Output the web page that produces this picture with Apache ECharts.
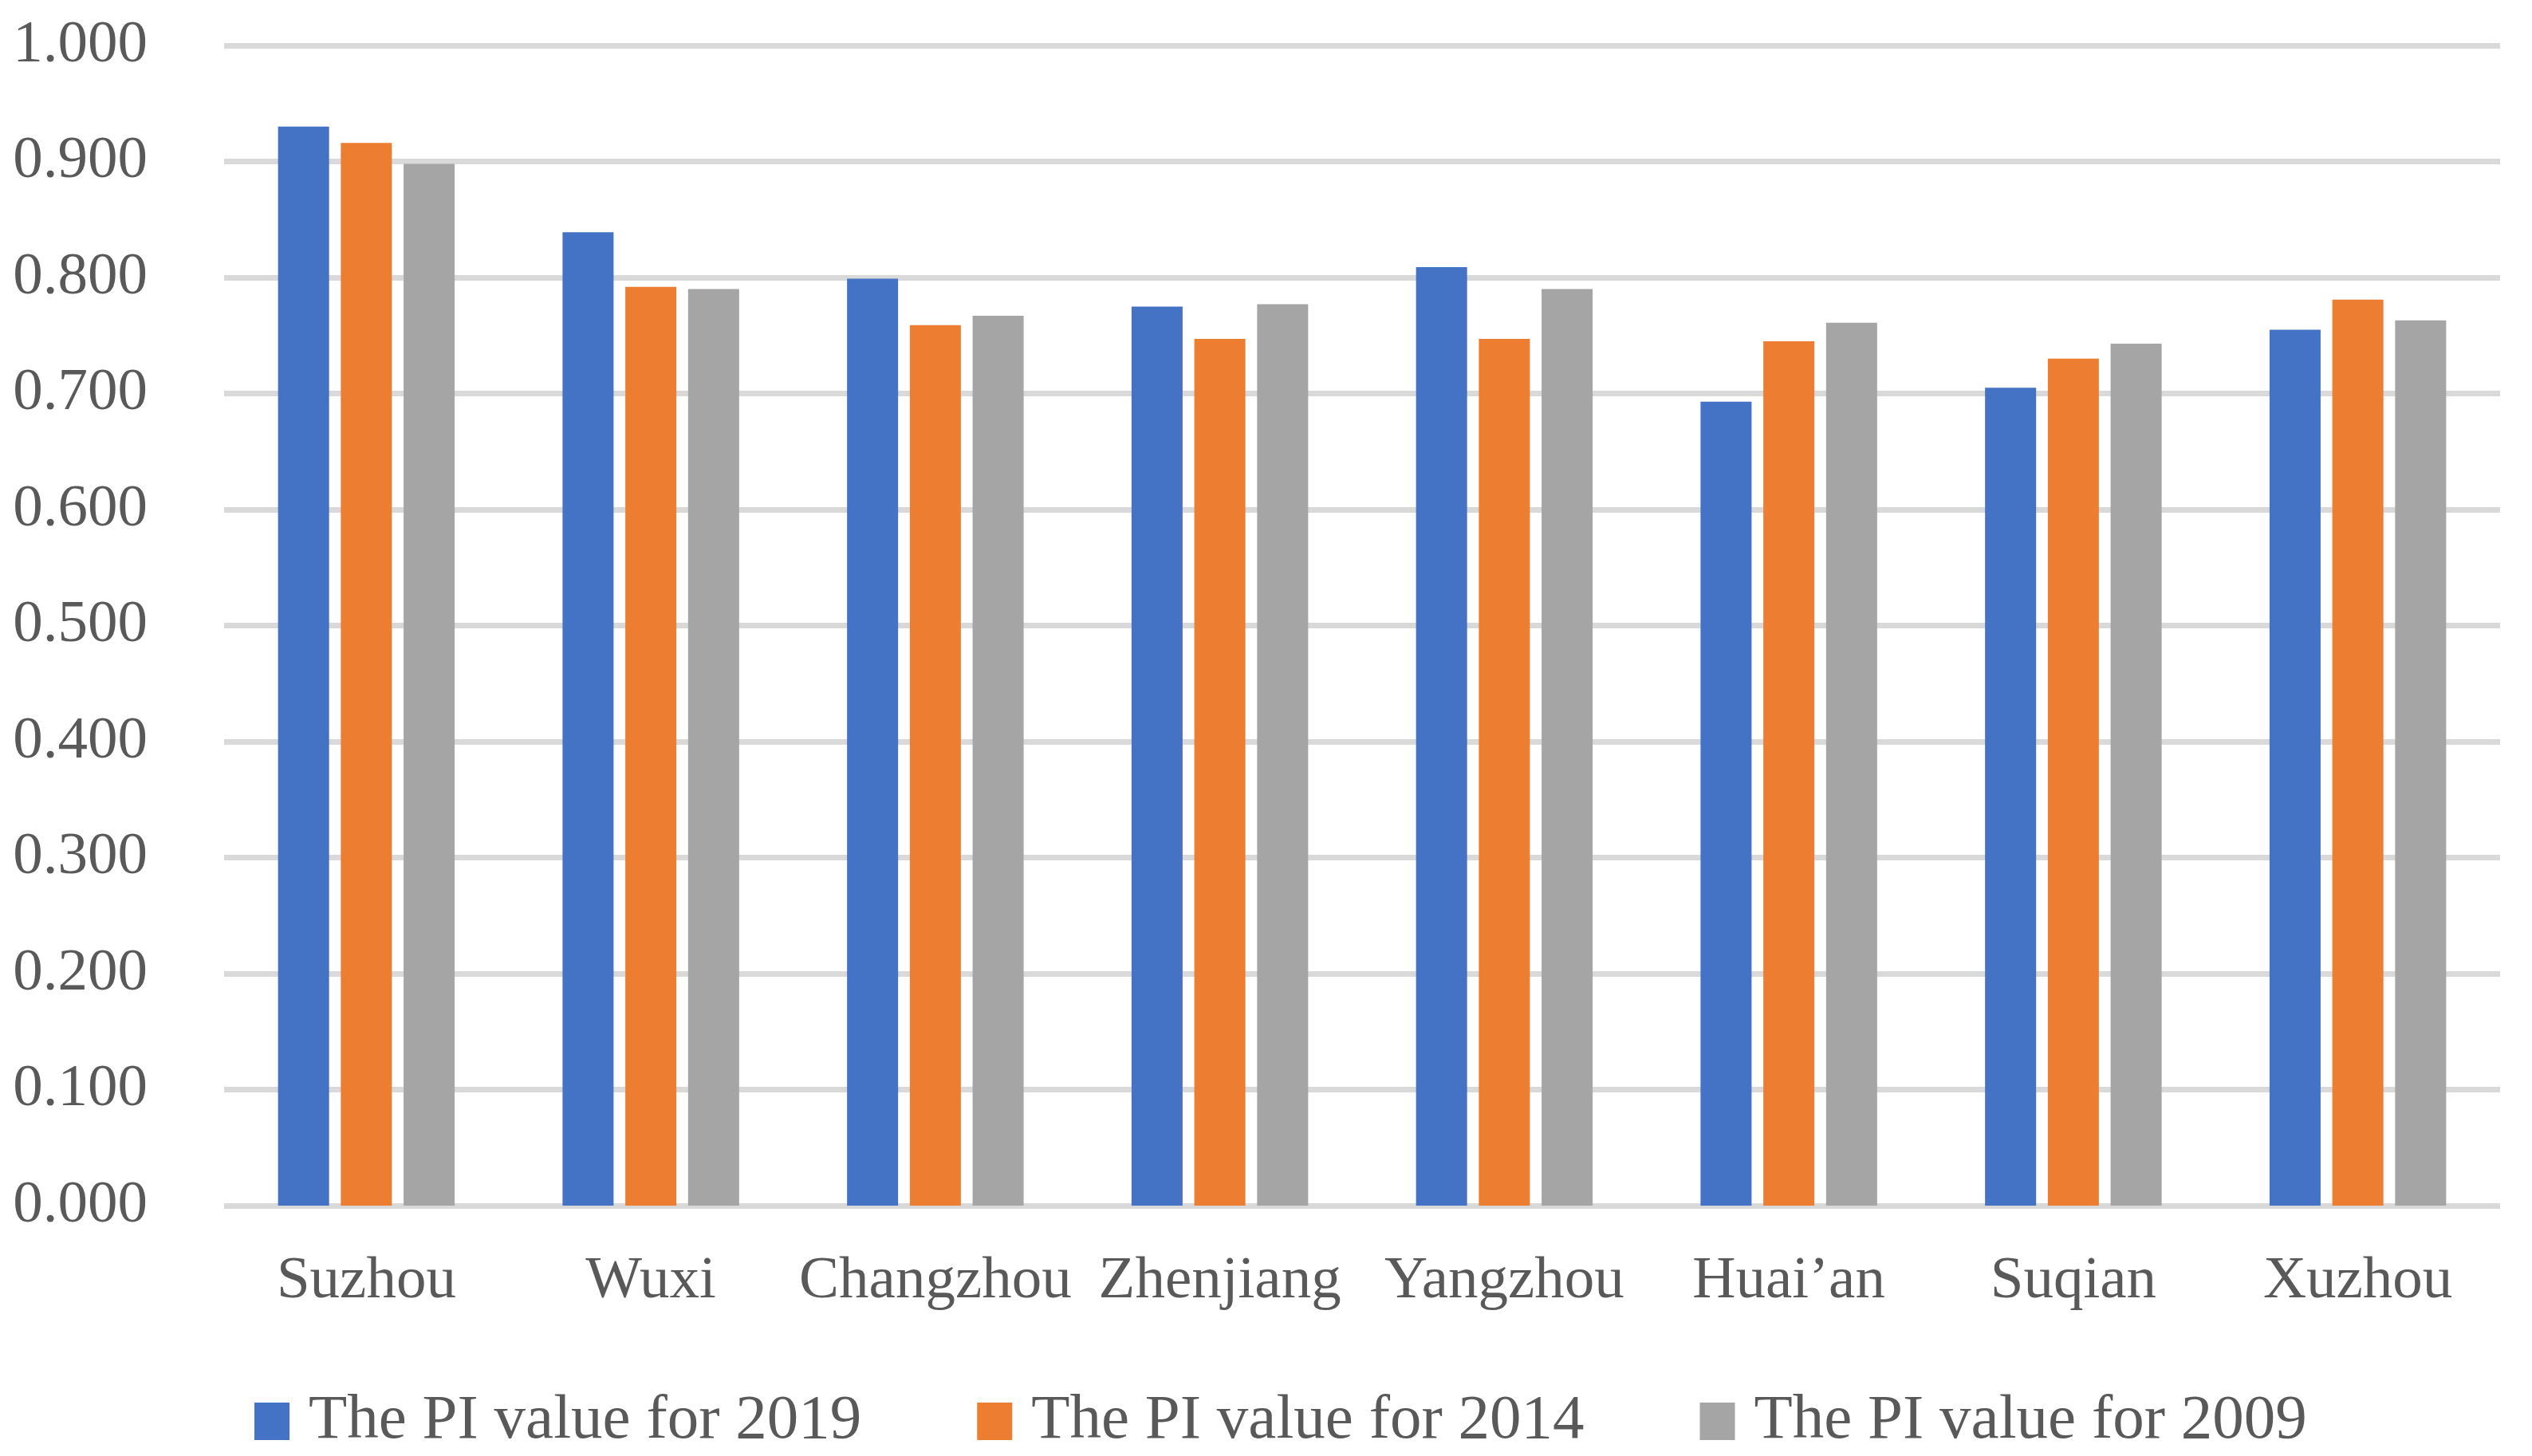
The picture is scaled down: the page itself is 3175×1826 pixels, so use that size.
<!DOCTYPE html>
<html>
<head>
<meta charset="utf-8">
<script src="https://cdn.jsdelivr.net/npm/echarts@6/dist/echarts.min.js"></script>
<style>
html,body{margin:0;padding:0;background:#fff;}
#chart{width:3175px;height:1826px;}
</style>
</head>
<body>
<div id="chart"></div>
<script>
const categories = ['Suzhou','Wuxi','Changzhou','Zhenjiang','Yangzhou','Huai\u2019an','Suqian','Xuzhou'];
const seriesNames = ['The PI value for 2019','The PI value for 2014','The PI value for 2009'];
const pi2019 = [0.930, 0.839, 0.799, 0.775, 0.809, 0.693, 0.705, 0.755];
const pi2014 = [0.916, 0.792, 0.759, 0.747, 0.747, 0.745, 0.730, 0.781];
const pi2009 = [0.898, 0.790, 0.767, 0.777, 0.790, 0.761, 0.743, 0.763];
const colors = ['#4472C4','#ED7D31','#A5A5A5'];

const FONT = 'Liberation Serif';
const chart = echarts.init(document.getElementById('chart'));
const mk = (name, data, color) => ({
  name, type: 'bar', data, barWidth: 64, barGap: '23%',
  itemStyle: { color }, emphasis: { disabled: true }
});
chart.setOption({
  animation: false,
  backgroundColor: '#ffffff',
  grid: { left: 281, right: 40, top: 57, bottom: 314, containLabel: false },
  legend: {
    left: 314, top: 1738,
    itemWidth: 44, itemHeight: 47, itemGap: 145,
    icon: 'rect',
    textStyle: { fontFamily: FONT, fontSize: 79, color: '#595959', padding: [0,0,0,19] },
    data: seriesNames
  },
  xAxis: {
    type: 'category', data: categories,
    axisLine: { show: false }, axisTick: { show: false },
    axisLabel: { fontFamily: FONT, fontSize: 75, color: '#595959', margin: 58, interval: 0 }
  },
  yAxis: {
    type: 'value', min: 0, max: 1, interval: 0.1,
    axisLine: { show: false }, axisTick: { show: false },
    axisLabel: { fontFamily: FONT, fontSize: 75, color: '#595959', margin: 96,
      formatter: v => v.toFixed(3) },
    splitLine: { lineStyle: { color: '#D9D9D9', width: 7 } }
  },
  series: [
    mk(seriesNames[0], pi2019, colors[0]),
    mk(seriesNames[1], pi2014, colors[1]),
    mk(seriesNames[2], pi2009, colors[2])
  ]
});
</script>
</body>
</html>
